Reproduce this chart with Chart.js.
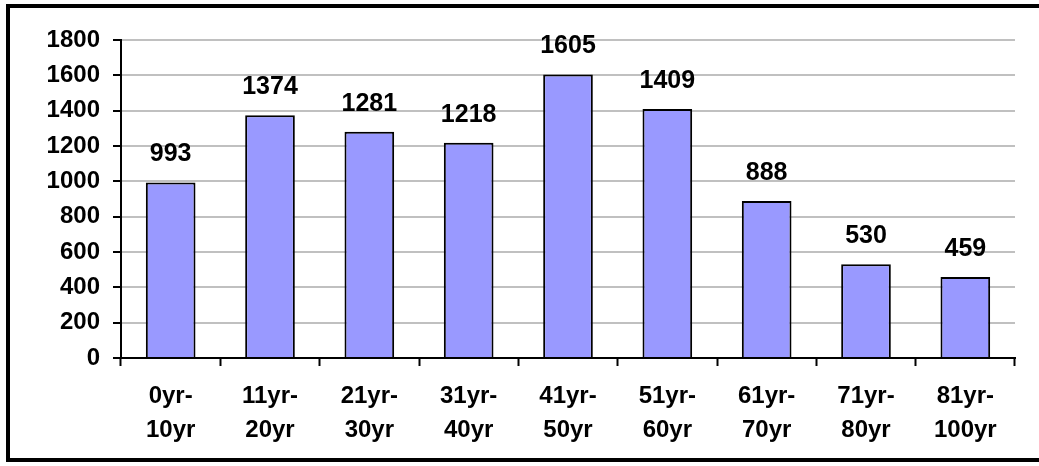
<!DOCTYPE html>
<html>
<head>
<meta charset="utf-8">
<script src="https://cdn.jsdelivr.net/npm/chart.js@4"></script>
<style>
  html, body { margin: 0; padding: 0; background: #fff; }
  #wrap { position: relative; width: 1039px; height: 466px; overflow: hidden; }
  #frame { position: absolute; left: 6px; top: 4px; width: 1100px; height: 458px;
           border: 4px solid #000; box-sizing: border-box; }
  canvas { position: absolute; left: 0; top: 0; }
</style>
</head>
<body>
<div id="wrap">
  <div id="frame"></div>
  <canvas id="ageChart" width="1039" height="466"></canvas>
</div>
<script>
// age groups and counts
let ageGroups = [['0yr-', '10yr'], ['11yr-', '20yr'], ['21yr-', '30yr'], ['31yr-', '40yr'],
                 ['41yr-', '50yr'], ['51yr-', '60yr'], ['61yr-', '70yr'], ['71yr-', '80yr'],
                 ['81yr-', '100yr']];
let counts = [993, 1374, 1281, 1218, 1605, 1409, 888, 530, 459];
let yTicks = [0, 200, 400, 600, 800, 1000, 1200, 1400, 1600, 1800];

// writes each value over its bar
let valueLabels = {
    id: 'valueLabels',
    afterDatasetsDraw(chart) {
        let c = chart.ctx;
        let meta = chart.getDatasetMeta(0);
        c.save();
        c.font = 'bold 25px "Liberation Sans", Arial, sans-serif';
        c.fillStyle = '#000';
        c.textAlign = 'center';
        c.textBaseline = 'middle';
        meta.data.forEach(function (bar, i) {
            c.fillText(String(counts[i]), bar.x, bar.y - 28);
        });
        c.restore();
    }
};

let ctx = document.getElementById('ageChart').getContext('2d');

let ageChart = new Chart(ctx, {
    type: 'bar',
    data: {
        labels: ageGroups,
        datasets: [{
            data: counts,
            backgroundColor: '#9999FF',
            borderColor: '#000',
            borderWidth: 2,
            borderSkipped: 'bottom',
            categoryPercentage: 1,
            barPercentage: 0.5
        }]
    },
    options: {
        responsive: false,
        animation: false,
        layout: { padding: { left: 0, right: 24, top: 40, bottom: 0 } },
        plugins: {
            legend: { display: false },
            tooltip: { enabled: false }
        },
        scales: {
            x: {
                grid: { offset: true, drawOnChartArea: false, tickLength: 8, tickColor: '#000', tickWidth: 2 },
                border: { color: '#000', width: 2 },
                ticks: {
                    color: '#000',
                    padding: 14,
                    maxRotation: 0,
                    font: { family: '"Liberation Sans", Arial, sans-serif', size: 24, weight: 'bold', lineHeight: 1.4 }
                },
                afterFit(scale) { scale.height = 108; }
            },
            y: {
                min: 0,
                max: 1800,
                afterBuildTicks(scale) { scale.ticks = yTicks.map(v => ({ value: v })); },
                grid: { color: '#C0C0C0', lineWidth: 2, tickLength: 8, tickColor: '#000', tickWidth: 2 },
                border: { color: '#000', width: 2 },
                ticks: {
                    color: '#000',
                    padding: 13,
                    callback: v => String(v),
                    font: { family: '"Liberation Sans", Arial, sans-serif', size: 24, weight: 'bold' }
                },
                afterFit(scale) { scale.width = 121; }
            }
        }
    },
    plugins: [valueLabels]
});
</script>
</body>
</html>
